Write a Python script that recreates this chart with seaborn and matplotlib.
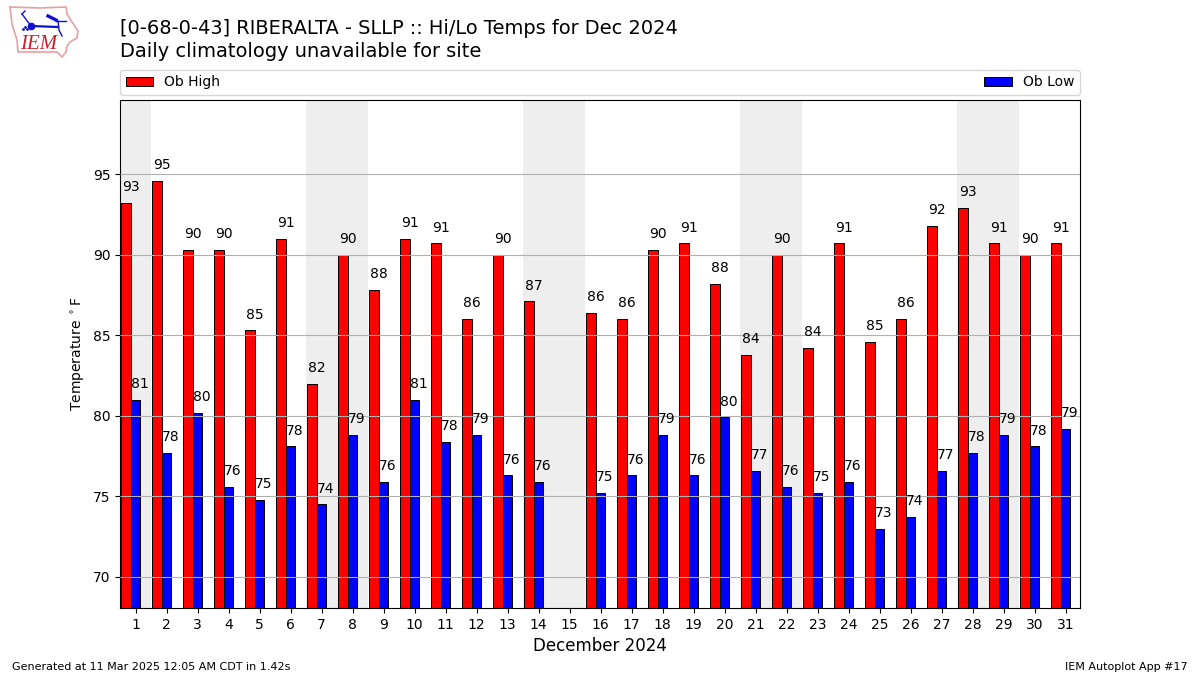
#!/usr/bin/env python3
# IEM Autoplot 17 style chart: daily hi/lo temps for one month
import numpy as np
import pandas as pd
import matplotlib.pyplot as plt
import seaborn as sns

days = list(range(1, 32))
ob_high = [93.2, 94.6, 90.3, 90.3, 85.3, 91.0, 82.0, 90.0, 87.8, 91.0, 90.7, 86.0, 90.0, 87.1, np.nan, 86.4,
           86.0, 90.3, 90.7, 88.2, 83.8, 90.0, 84.2, 90.7, 84.6, 86.0, 91.8, 92.9, 90.7, 90.0, 90.7]
ob_low = [81.0, 77.7, 80.2, 75.6, 74.8, 78.1, 74.5, 78.8, 75.9, 81.0, 78.4, 78.8, 76.3, 75.9, np.nan, 75.2,
          76.3, 78.8, 76.3, 79.9, 76.6, 75.6, 75.2, 75.9, 73.0, 73.7, 76.6, 77.7, 78.8, 78.1, 79.2]
weekend_spans = [(1, 1), (7, 8), (14, 15), (21, 22), (28, 29)]
yticks = [70, 75, 80, 85, 90, 95]

df = pd.DataFrame({
    "day": days * 2,
    "temp": ob_high + ob_low,
    "series": ["Ob High"] * 31 + ["Ob Low"] * 31,
})

fig = plt.figure(figsize=(12, 6.75), dpi=100)
ax = fig.add_axes([0.1, 0.0993, 0.8, 0.7526])

sns.barplot(data=df, x="day", y="temp", hue="series", order=days,
            palette={"Ob High": "#ff0000", "Ob Low": "#0000ff"}, saturation=1,
            width=0.6, gap=0, dodge=True, edgecolor="black", linewidth=0.7,
            errorbar=None, ax=ax, zorder=2)

# ticks sit a bit right of the high/low bar boundary
tick_off = 0.16
for start, end in weekend_spans:
    ax.axvspan(start - 1 + tick_off - 0.5, end - 1 + tick_off + 0.5, color="#eeeeee", lw=0, zorder=0)

for i, (hi, lo) in enumerate(zip(ob_high, ob_low)):
    if np.isnan(hi):
        continue
    ax.text(i, hi + 0.55, f"{hi:.0f}", ha="center", va="bottom", fontsize=10, zorder=5)
    ax.text(i + 0.3, lo + 0.55, f"{lo:.0f}", ha="center", va="bottom", fontsize=10, zorder=5)

ax.set_xlim(-0.34, 30.62)
ax.set_ylim(68.07, 99.6)
ax.set_xticks([i + tick_off for i in range(31)])
ax.set_xticklabels([str(d) for d in days], fontsize=10)
ax.set_yticks(yticks)
ax.tick_params(axis="y", labelsize=10)
ax.yaxis.grid(True, color="#b0b0b0", linewidth=0.8, zorder=3)
ax.set_axisbelow(False)
ax.xaxis.grid(False)
ax.set_xlabel("December 2024", fontsize=12)
ax.set_ylabel(r"Temperature $^\circ$F", fontsize=10)

ax.legend(loc="lower left", bbox_to_anchor=(0, 1.01, 1, 0.05), mode="expand", ncol=2,
          borderaxespad=0, fontsize=10, title=None)

fig.text(0.1, 0.9585, "[0-68-0-43] RIBERALTA - SLLP :: Hi/Lo Temps for Dec 2024", fontsize=13.97, va="center")
fig.text(0.1, 0.923, "Daily climatology unavailable for site", fontsize=13.97, va="center")
fig.text(0.01, 0.0125, "Generated at 11 Mar 2025 12:05 AM CDT in 1.42s", fontsize=8, va="center")
fig.text(0.99, 0.0125, "IEM Autoplot App #17", fontsize=8, va="center", ha="right")

# logo, rough state outline with the network glyph
logo = fig.add_axes([0, 1 - 60 / 675, 80 / 1200, 60 / 675])
logo.set_xlim(0, 80)
logo.set_ylim(60, 0)
logo.axis("off")
outline_x = [10, 40, 66, 67, 72, 78, 77, 70, 67, 66, 62, 57, 18, 17, 12, 10]
outline_y = [7, 8, 7, 14, 22, 31, 38, 42, 46, 52, 57, 52, 52, 40, 24, 7]
logo.plot(outline_x, outline_y, color="#e8a0a0", lw=1.2)
logo.plot([31, 58], [26, 27], color="#1010d0", lw=1.6)
logo.plot([22, 31], [14, 26], color="#1010d0", lw=1.0)
logo.plot([22, 25], [14, 11], color="#1010d0", lw=1.0)
logo.plot([48, 56], [16, 20], color="#1010d0", lw=2.4)
logo.plot([56, 66], [21, 21], color="#1010d0", lw=1.0)
logo.plot([58, 59, 62], [21, 30, 36], color="#1010d0", lw=1.0)
logo.plot([31], [26], "o", color="#1010d0", ms=4.5)
logo.plot([23, 25, 27], [29, 27, 29], "o", color="#1010d0", ms=1)
logo.text(20, 44.5, "IEM", color="#cc2030", fontsize=15, style="italic", family="Liberation Serif", va="center")

fig.savefig("out.png", dpi=100)
